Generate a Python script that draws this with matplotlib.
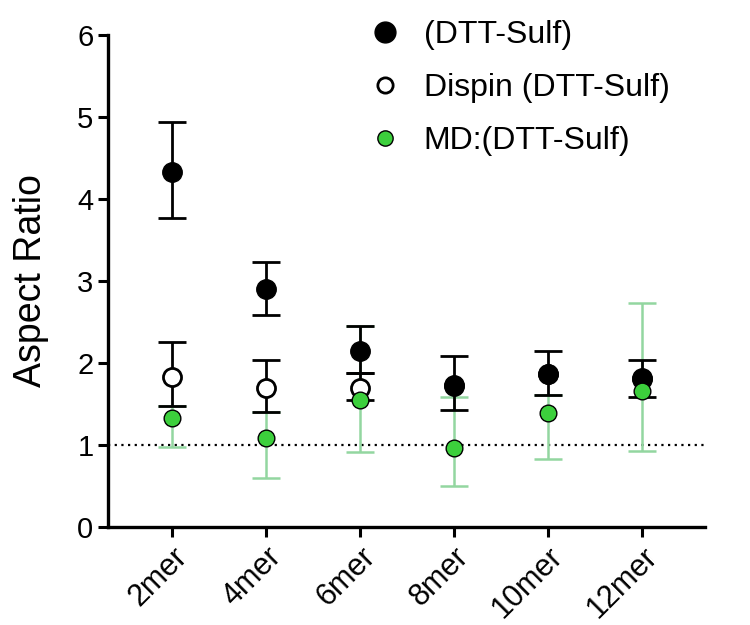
import numpy as np
import matplotlib
matplotlib.use("Agg")
import matplotlib.pyplot as plt
from matplotlib.lines import Line2D

plt.rcParams["font.family"] = ["Liberation Sans", "DejaVu Sans"]

# data (nan = error bar hidden behind markers)
categories = ["2mer", "4mer", "6mer", "8mer", "10mer", "12mer"]

dtt = [4.33, 2.90, 2.15, 1.73, 1.87, 1.81]
dtt_lo = [3.77, 2.58, 1.88, 1.42, 1.61, 1.59]
dtt_hi = [4.94, 3.23, 2.45, 2.09, 2.15, 2.03]

dispin = [1.83, 1.69, 1.70, 1.72, 1.86, 1.80]
dispin_lo = [1.48, 1.40, 1.55, np.nan, np.nan, np.nan]
dispin_hi = [2.26, 2.04, 1.88, np.nan, np.nan, np.nan]

md = [1.33, 1.08, 1.55, 0.96, 1.39, 1.66]
md_lo = [0.97, 0.60, 0.91, 0.50, 0.83, 0.92]
md_hi = [1.48, 1.40, 2.45, 1.59, 1.61, 2.73]

labels = ["(DTT-Sulf)", "Dispin (DTT-Sulf)", "MD:(DTT-Sulf)"]

green = "#3ccf3c"
green_err = "#93d6a0"


def err(vals, lo, hi):
    vals = np.asarray(vals)
    return np.vstack([vals - np.asarray(lo), np.asarray(hi) - vals])


fig = plt.figure(figsize=(7.5, 6.25), dpi=100)
ax = fig.add_axes([0.144, 0.157, 0.796, 0.787])
x = np.arange(len(categories))

ax.axhline(1, color="black", linestyle=(0, (1, 2)), lw=1.6, zorder=1)

# error bars first, markers on top (open < filled < green)
ax.errorbar(x, md, yerr=err(md, md_lo, md_hi), fmt="none", ecolor=green_err,
            elinewidth=1.8, capsize=10, capthick=1.8, zorder=2)
ax.errorbar(x, dtt, yerr=err(dtt, dtt_lo, dtt_hi), fmt="none", ecolor="black",
            elinewidth=2, capsize=10, capthick=2, zorder=3)
ok = ~np.isnan(dispin_lo)
ax.errorbar(x[ok], np.asarray(dispin)[ok],
            yerr=err(dispin, dispin_lo, dispin_hi)[:, ok], fmt="none",
            ecolor="black", elinewidth=2, capsize=10, capthick=2, zorder=3)

ax.plot(x, dispin, "o", ls="", mfc="white", mec="black", mew=2, ms=13, zorder=4)
ax.plot(x, dtt, "o", ls="", color="black", ms=14, zorder=5)
ax.plot(x, md, "o", ls="", mfc=green, mec="black", mew=1, ms=12, zorder=6)

ax.set_xlim(-0.68, 5.67)
ax.set_ylim(0, 6)
ax.set_yticks(range(0, 7))
ax.set_xticks(x)
ax.set_xticklabels(categories, rotation=45, ha="right", rotation_mode="anchor")
ax.tick_params(axis="both", labelsize=21, width=2.2, length=7)
ax.tick_params(axis="x", labelsize=22)
ax.set_ylabel("Aspect Ratio", fontsize=27, labelpad=20)

for side in ("top", "right"):
    ax.spines[side].set_visible(False)
for side in ("left", "bottom"):
    ax.spines[side].set_linewidth(2.4)

handles = [
    Line2D([], [], marker="o", ls="", color="black", ms=15),
    Line2D([], [], marker="o", ls="", mfc="white", mec="black", mew=2, ms=11),
    Line2D([], [], marker="o", ls="", mfc=green, mec="black", mew=1, ms=11),
]
fig.legend(handles, labels, loc="upper left", bbox_to_anchor=(0.45, 1.014),
           frameon=False, fontsize=23, handletextpad=0.6, labelspacing=0.72,
           handlelength=1.2)

fig.savefig("out.png", dpi=100)
